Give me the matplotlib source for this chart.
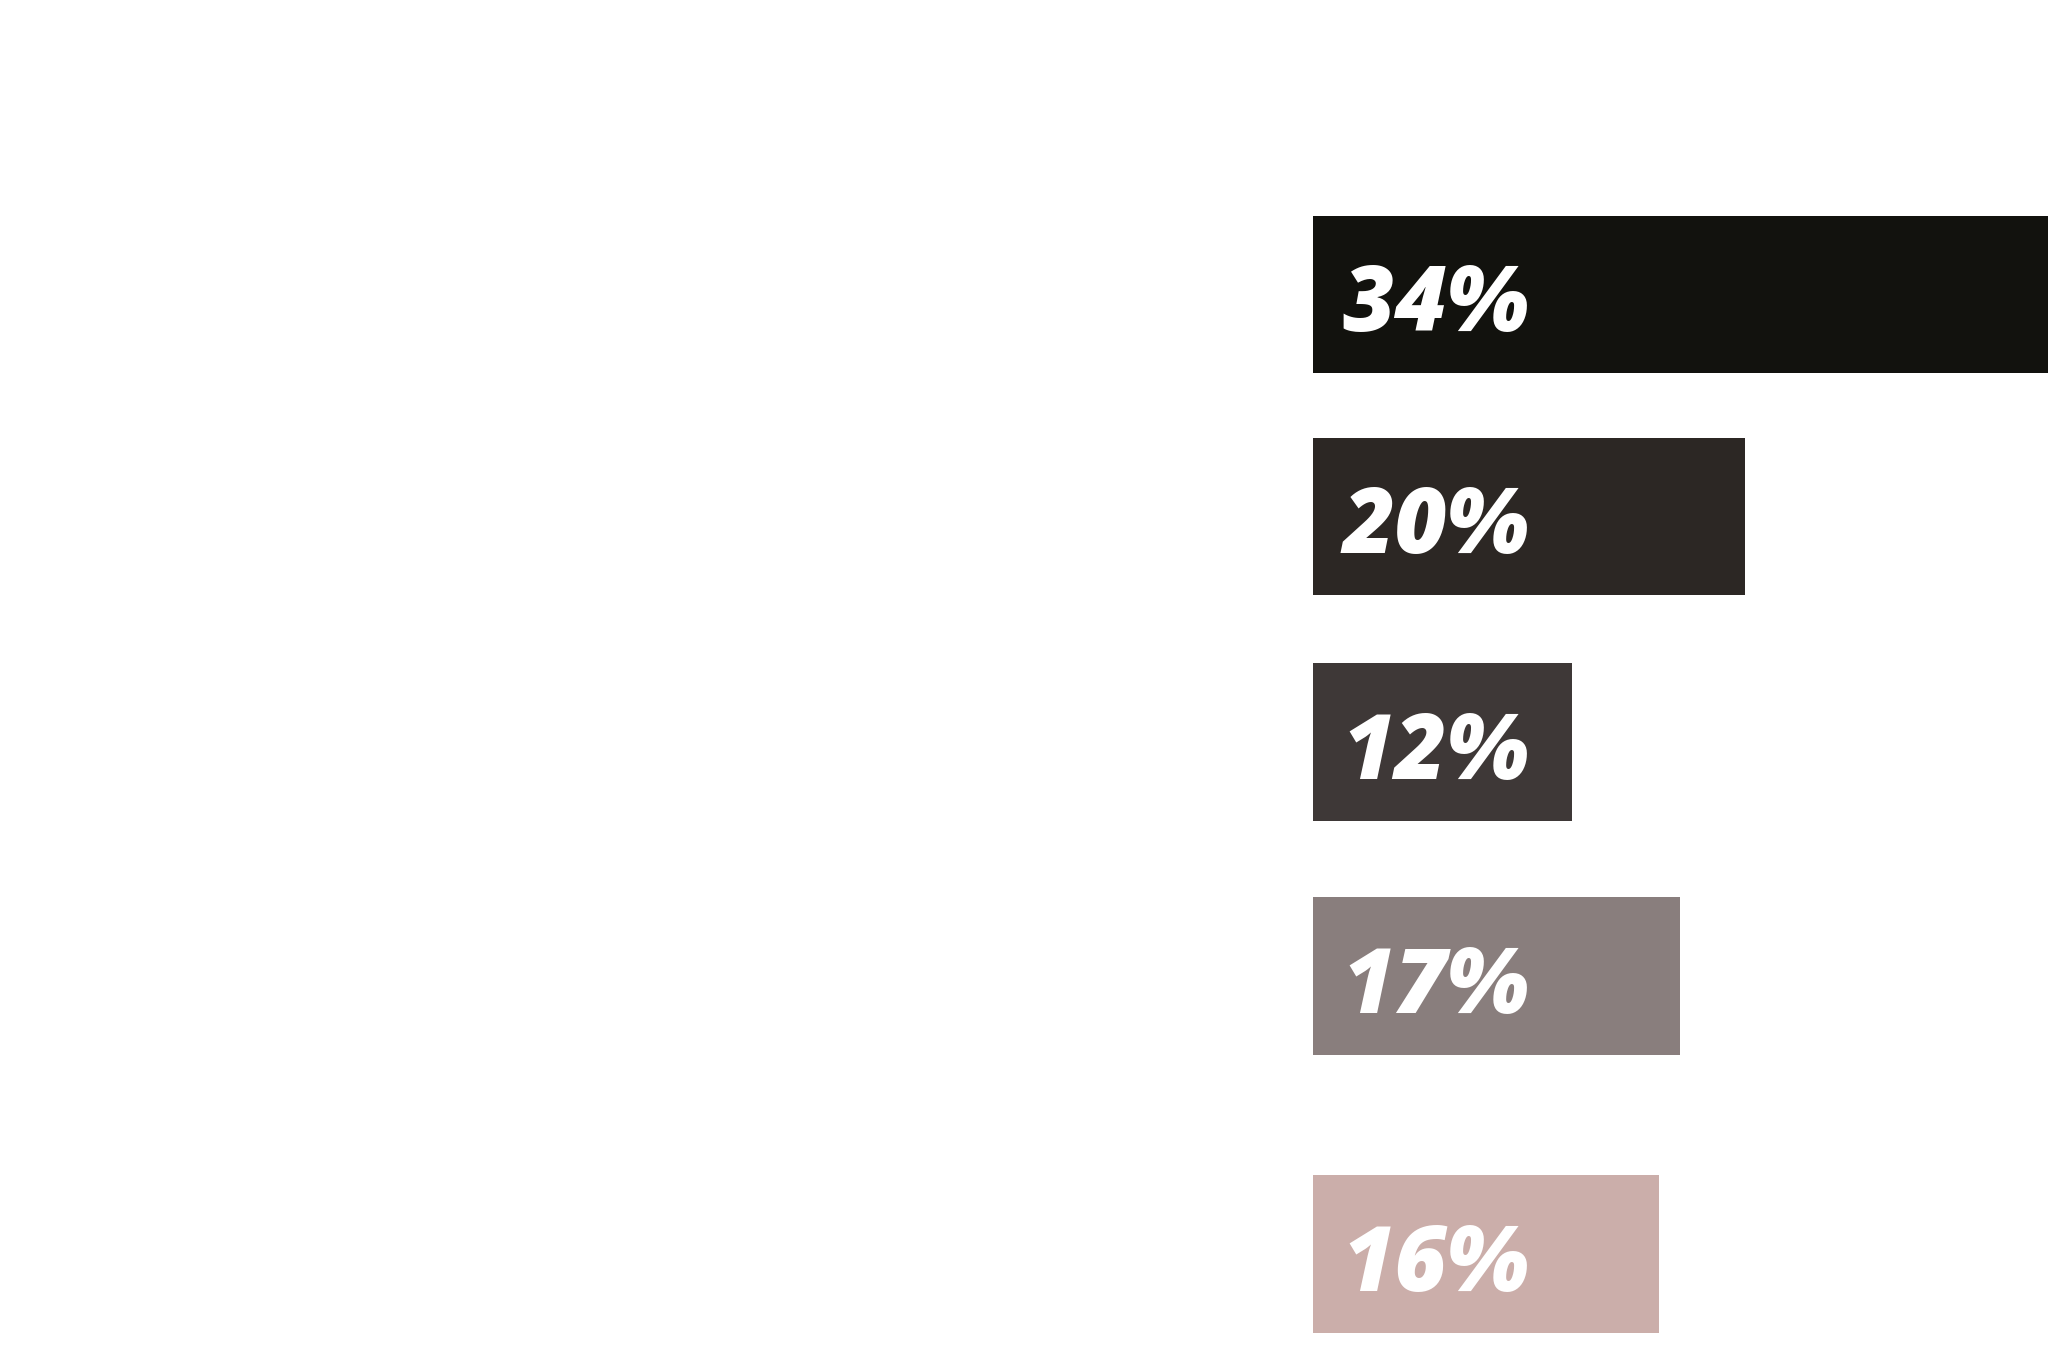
import matplotlib.pyplot as plt

# share values (percent) shown on each bar, top to bottom
shares = [34, 20, 12, 17, 16]
labels = ['34%', '20%', '12%', '17%', '16%']
colors = ['#12120e', '#2c2724', '#3e3837', '#897e7d', '#cbaeaa']

# bars are not evenly spaced in the original: last one sits lower
rows = [0, 0.993, 2.0, 3.047, 4.289]

fig = plt.figure(figsize=(20.48, 13.65), dpi=100)
fig.patch.set_facecolor('white')
ax = fig.add_axes([0.641, 0.0, 0.359, 1.0])

ax.barh(rows, shares, height=0.704, color=colors, align='center')

for y, txt in zip(rows, labels):
    ax.annotate(txt, xy=(0, y), xytext=(21.5, -26.5), textcoords='offset points',
                ha='left', va='baseline', color='white',
                fontsize=65, fontweight=800, fontstyle='italic',
                family=['Open Sans', 'DejaVu Sans'])

ax.set_xlim(0, 34)
ax.set_ylim(4.786, -1.316)
ax.axis('off')

plt.savefig('out.png', dpi=100, facecolor='white')
